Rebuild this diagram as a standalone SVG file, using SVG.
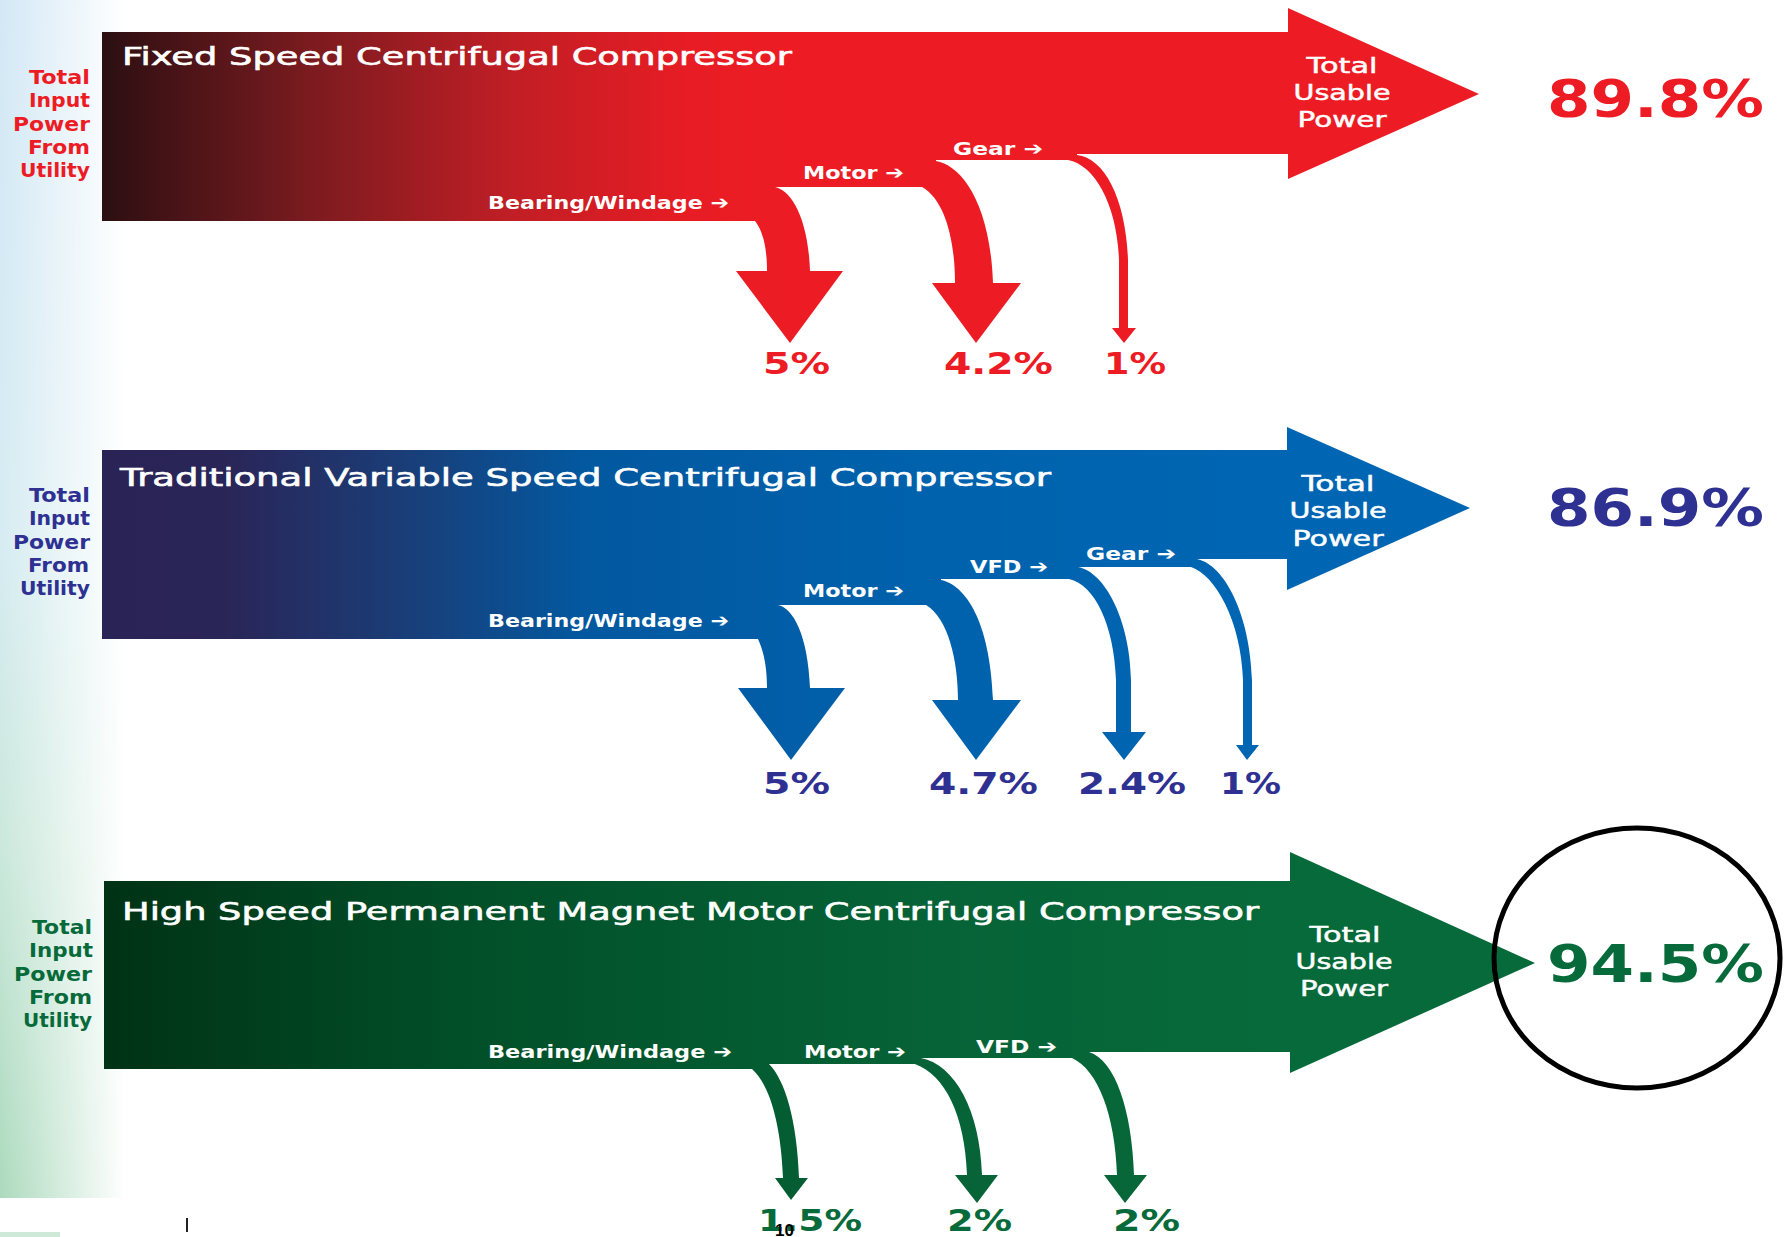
<svg xmlns="http://www.w3.org/2000/svg" width="1791" height="1237" viewBox="0 0 1791 1237">
<defs>
  <linearGradient id="stripV" x1="0" y1="0" x2="0" y2="1">
    <stop offset="0" stop-color="#d3e8f6"/>
    <stop offset="0.45" stop-color="#d6ecf2"/>
    <stop offset="0.7" stop-color="#cbe8dc"/>
    <stop offset="1" stop-color="#acdabd"/>
  </linearGradient>
  <linearGradient id="stripFade" x1="0" y1="0" x2="1" y2="0">
    <stop offset="0" stop-color="#ffffff" stop-opacity="0"/>
    <stop offset="0.35" stop-color="#ffffff" stop-opacity="0.35"/>
    <stop offset="1" stop-color="#ffffff" stop-opacity="1"/>
  </linearGradient>
  <linearGradient id="gRed" gradientUnits="userSpaceOnUse" x1="102" y1="0" x2="790" y2="0">
    <stop offset="0" stop-color="#2c0f12"/>
    <stop offset="0.3" stop-color="#7a1b1f"/>
    <stop offset="0.6" stop-color="#c21e25"/>
    <stop offset="0.85" stop-color="#e71c24"/>
    <stop offset="1" stop-color="#ed1c24"/>
  </linearGradient>
  <linearGradient id="gBlue" gradientUnits="userSpaceOnUse" x1="102" y1="0" x2="1300" y2="0">
    <stop offset="0" stop-color="#2a2456"/>
    <stop offset="0.1" stop-color="#2a2557"/>
    <stop offset="0.25" stop-color="#1a3d77"/>
    <stop offset="0.4" stop-color="#03589f"/>
    <stop offset="0.7" stop-color="#0062ad"/>
    <stop offset="1" stop-color="#0066b3"/>
  </linearGradient>
  <linearGradient id="gGreen" gradientUnits="userSpaceOnUse" x1="104" y1="0" x2="1290" y2="0">
    <stop offset="0" stop-color="#003216"/>
    <stop offset="0.3" stop-color="#014f28"/>
    <stop offset="0.7" stop-color="#066337"/>
    <stop offset="1" stop-color="#076a3a"/>
  </linearGradient>
  <style>
    .title{font-family:"DejaVu Sans","Liberation Sans",sans-serif;font-size:25px;fill:#ffffff;stroke:#ffffff;stroke-width:0.6px;}
    .usable{font-family:"DejaVu Sans","Liberation Sans",sans-serif;font-size:22px;fill:#ffffff;stroke:#ffffff;stroke-width:0.5px;text-anchor:middle;}
    .lbl{font-family:"DejaVu Sans","Liberation Sans",sans-serif;font-size:18px;font-weight:bold;fill:#ffffff;}
    .side{font-family:"DejaVu Sans","Liberation Sans",sans-serif;font-size:20px;font-weight:bold;text-anchor:end;}
    .big{font-family:"DejaVu Sans","Liberation Sans",sans-serif;font-size:52px;font-weight:bold;}
    .small{font-family:"DejaVu Sans","Liberation Sans",sans-serif;font-size:31px;font-weight:bold;}
    .red{fill:#ed1c24;}
    .blue{fill:#2e3192;}
    .green{fill:#076a3a;}
  </style>
</defs>

<g id="background">
  <rect x="0" y="0" width="1791" height="1237" fill="#ffffff"/>
  <rect x="0" y="0" width="125" height="1198" fill="url(#stripV)"/>
  <rect x="0" y="0" width="125" height="1198" fill="url(#stripFade)"/>
  <rect x="0" y="1232" width="60" height="5" fill="#cfe9d8"/>
  <rect x="186" y="1218" width="2" height="14" fill="#222222"/>
</g>

<g id="fixed-speed">
  <path d="M102,32 H1288 V8 L1479,94 L1288,179 V154 H1077 V160 H936 V187 H775 V221 H102 Z" fill="url(#gRed)"/>
  <text class="title" x="122" y="65" textLength="670" lengthAdjust="spacingAndGlyphs">Fixed Speed Centrifugal Compressor</text>
  <text class="side red" x="90" y="84" textLength="61" lengthAdjust="spacingAndGlyphs">Total</text>
  <text class="side red" x="90" y="107" textLength="61" lengthAdjust="spacingAndGlyphs">Input</text>
  <text class="side red" x="90" y="131" textLength="77" lengthAdjust="spacingAndGlyphs">Power</text>
  <text class="side red" x="90" y="154" textLength="62" lengthAdjust="spacingAndGlyphs">From</text>
  <text class="side red" x="90" y="177" textLength="70" lengthAdjust="spacingAndGlyphs">Utility</text>
  <text class="usable" x="1342" y="73" textLength="71" lengthAdjust="spacingAndGlyphs">Total</text>
  <text class="usable" x="1342" y="100" textLength="97" lengthAdjust="spacingAndGlyphs">Usable</text>
  <text class="usable" x="1342" y="127" textLength="89" lengthAdjust="spacingAndGlyphs">Power</text>
  <text class="lbl" x="488" y="209" textLength="241" lengthAdjust="spacingAndGlyphs">Bearing/Windage ➔</text>
  <text class="lbl" x="803" y="179" textLength="101" lengthAdjust="spacingAndGlyphs">Motor ➔</text>
  <text class="lbl" x="953" y="155" textLength="90" lengthAdjust="spacingAndGlyphs">Gear ➔</text>
  <text class="big red" x="1547" y="117" textLength="217" lengthAdjust="spacingAndGlyphs">89.8%</text>
  <text class="small red" x="763" y="374" textLength="67" lengthAdjust="spacingAndGlyphs">5%</text>
  <text class="small red" x="944" y="374" textLength="109" lengthAdjust="spacingAndGlyphs">4.2%</text>
  <text class="small red" x="1104" y="374" textLength="62" lengthAdjust="spacingAndGlyphs">1%</text>
</g>

<g id="traditional-variable-speed">
  <path d="M102,450 H1287 V427 L1470,508 L1287,590 V559 H1197 V567 H1078 V579 H941 V605 H778 V639 H102 Z" fill="url(#gBlue)"/>
  <text class="title" x="120" y="486" textLength="931" lengthAdjust="spacingAndGlyphs">Traditional Variable Speed Centrifugal Compressor</text>
  <text class="side blue" x="90" y="502" textLength="61" lengthAdjust="spacingAndGlyphs">Total</text>
  <text class="side blue" x="90" y="525" textLength="61" lengthAdjust="spacingAndGlyphs">Input</text>
  <text class="side blue" x="90" y="549" textLength="77" lengthAdjust="spacingAndGlyphs">Power</text>
  <text class="side blue" x="89" y="572" textLength="61" lengthAdjust="spacingAndGlyphs">From</text>
  <text class="side blue" x="90" y="595" textLength="70" lengthAdjust="spacingAndGlyphs">Utility</text>
  <text class="usable" x="1338" y="491" textLength="73" lengthAdjust="spacingAndGlyphs">Total</text>
  <text class="usable" x="1338" y="518" textLength="97" lengthAdjust="spacingAndGlyphs">Usable</text>
  <text class="usable" x="1338" y="546" textLength="91" lengthAdjust="spacingAndGlyphs">Power</text>
  <text class="lbl" x="488" y="627" textLength="241" lengthAdjust="spacingAndGlyphs">Bearing/Windage ➔</text>
  <text class="lbl" x="803" y="597" textLength="101" lengthAdjust="spacingAndGlyphs">Motor ➔</text>
  <text class="lbl" x="970" y="573" textLength="78" lengthAdjust="spacingAndGlyphs">VFD ➔</text>
  <text class="lbl" x="1086" y="560" textLength="90" lengthAdjust="spacingAndGlyphs">Gear ➔</text>
  <text class="big blue" x="1547" y="526" textLength="217" lengthAdjust="spacingAndGlyphs">86.9%</text>
  <text class="small blue" x="763" y="794" textLength="67" lengthAdjust="spacingAndGlyphs">5%</text>
  <text class="small blue" x="929" y="794" textLength="109" lengthAdjust="spacingAndGlyphs">4.7%</text>
  <text class="small blue" x="1078" y="794" textLength="108" lengthAdjust="spacingAndGlyphs">2.4%</text>
  <text class="small blue" x="1220" y="794" textLength="61" lengthAdjust="spacingAndGlyphs">1%</text>
</g>

<g id="high-speed-pm-motor">
  <path d="M104,881 H1290 V852 L1535,963 L1290,1073 V1052 H1089 V1058 H921 V1064 H769 V1069 H104 Z" fill="url(#gGreen)"/>
  <text class="title" x="122" y="920" textLength="1137" lengthAdjust="spacingAndGlyphs">High Speed Permanent Magnet Motor Centrifugal Compressor</text>
  <text class="side green" x="92" y="934" textLength="60" lengthAdjust="spacingAndGlyphs">Total</text>
  <text class="side green" x="93" y="957" textLength="64" lengthAdjust="spacingAndGlyphs">Input</text>
  <text class="side green" x="92" y="981" textLength="78" lengthAdjust="spacingAndGlyphs">Power</text>
  <text class="side green" x="92" y="1004" textLength="63" lengthAdjust="spacingAndGlyphs">From</text>
  <text class="side green" x="92" y="1027" textLength="69" lengthAdjust="spacingAndGlyphs">Utility</text>
  <text class="usable" x="1345" y="942" textLength="71" lengthAdjust="spacingAndGlyphs">Total</text>
  <text class="usable" x="1344" y="969" textLength="97" lengthAdjust="spacingAndGlyphs">Usable</text>
  <text class="usable" x="1344" y="996" textLength="88" lengthAdjust="spacingAndGlyphs">Power</text>
  <text class="lbl" x="488" y="1058" textLength="244" lengthAdjust="spacingAndGlyphs">Bearing/Windage ➔</text>
  <text class="lbl" x="804" y="1058" textLength="102" lengthAdjust="spacingAndGlyphs">Motor ➔</text>
  <text class="lbl" x="976" y="1053" textLength="81" lengthAdjust="spacingAndGlyphs">VFD ➔</text>
  <text class="big green" x="1547" y="982" textLength="217" lengthAdjust="spacingAndGlyphs">94.5%</text>
  <text class="small green" x="758" y="1231" textLength="104" lengthAdjust="spacingAndGlyphs">1.5%</text>
  <text class="small green" x="947" y="1231" textLength="65" lengthAdjust="spacingAndGlyphs">2%</text>
  <text class="small green" x="1113" y="1231" textLength="67" lengthAdjust="spacingAndGlyphs">2%</text>
</g>

<g id="connectors">
  <path d="M750,187 L775,187 C790,190 808,215 810,271 L843,271 L790,343 L736,271 L767,271 C767,245 762,230 755,221 L750,221 Z" fill="url(#gRed)"/>
  <path d="M915,161 L936,161 C960,165 990,200 993,283 L1021,283 L976,343 L932,283 L955,283 C955,240 945,200 922,187 L915,187 Z" fill="url(#gRed)"/>
  <path d="M1060,155 L1077,155 C1105,158 1126,200 1128,260 L1128,328 L1136,328 L1124,343 L1112,328 L1119,328 L1119,260 C1117,205 1095,165 1068,160 L1060,160 Z" fill="url(#gRed)"/>

  <path d="M750,605 L778,605 C793,608 808,635 810,688 L845,688 L791,760 L738,688 L767,688 C767,665 763,650 758,639 L750,639 Z" fill="url(#gBlue)"/>
  <path d="M920,580 L941,580 C965,585 990,620 993,700 L1021,700 L976,760 L932,700 L958,700 C958,660 948,618 926,605 L920,605 Z" fill="url(#gBlue)"/>
  <path d="M1060,567 L1078,567 C1105,572 1130,620 1131,680 L1131,732 L1146,732 L1124,760 L1102,732 L1116,732 L1116,680 C1114,625 1095,585 1069,579 L1060,579 Z" fill="url(#gBlue)"/>
  <path d="M1185,559 L1197,559 C1225,565 1250,615 1252,680 L1252,745 L1259,745 L1247,760 L1236,745 L1243,745 L1243,680 C1241,620 1215,575 1191,567 L1185,567 Z" fill="url(#gBlue)"/>

  <path d="M745,1064 L769,1064 C785,1080 797,1120 799,1178 L808,1178 L791,1200 L775,1178 L783,1178 C781,1125 770,1085 752,1069 L745,1069 Z" fill="url(#gGreen)"/>
  <path d="M910,1058 L921,1058 C955,1065 980,1110 982,1175 L998,1175 L977,1203 L955,1175 L967,1175 C965,1115 945,1075 915,1064 L910,1064 Z" fill="url(#gGreen)"/>
  <path d="M1065,1052 L1089,1052 C1115,1060 1132,1110 1134,1175 L1147,1175 L1125,1203 L1104,1175 L1117,1175 C1115,1115 1098,1070 1072,1058 L1065,1058 Z" fill="url(#gGreen)"/>
</g>

<g id="highlight">
  <ellipse cx="1637" cy="958" rx="143" ry="130" fill="none" stroke="#000000" stroke-width="5"/>
</g>

<g id="page-number">
  <text x="775" y="1236" font-family="Liberation Sans, Arial, sans-serif" font-size="17" font-weight="bold" fill="#000000">10</text>
</g>
</svg>
